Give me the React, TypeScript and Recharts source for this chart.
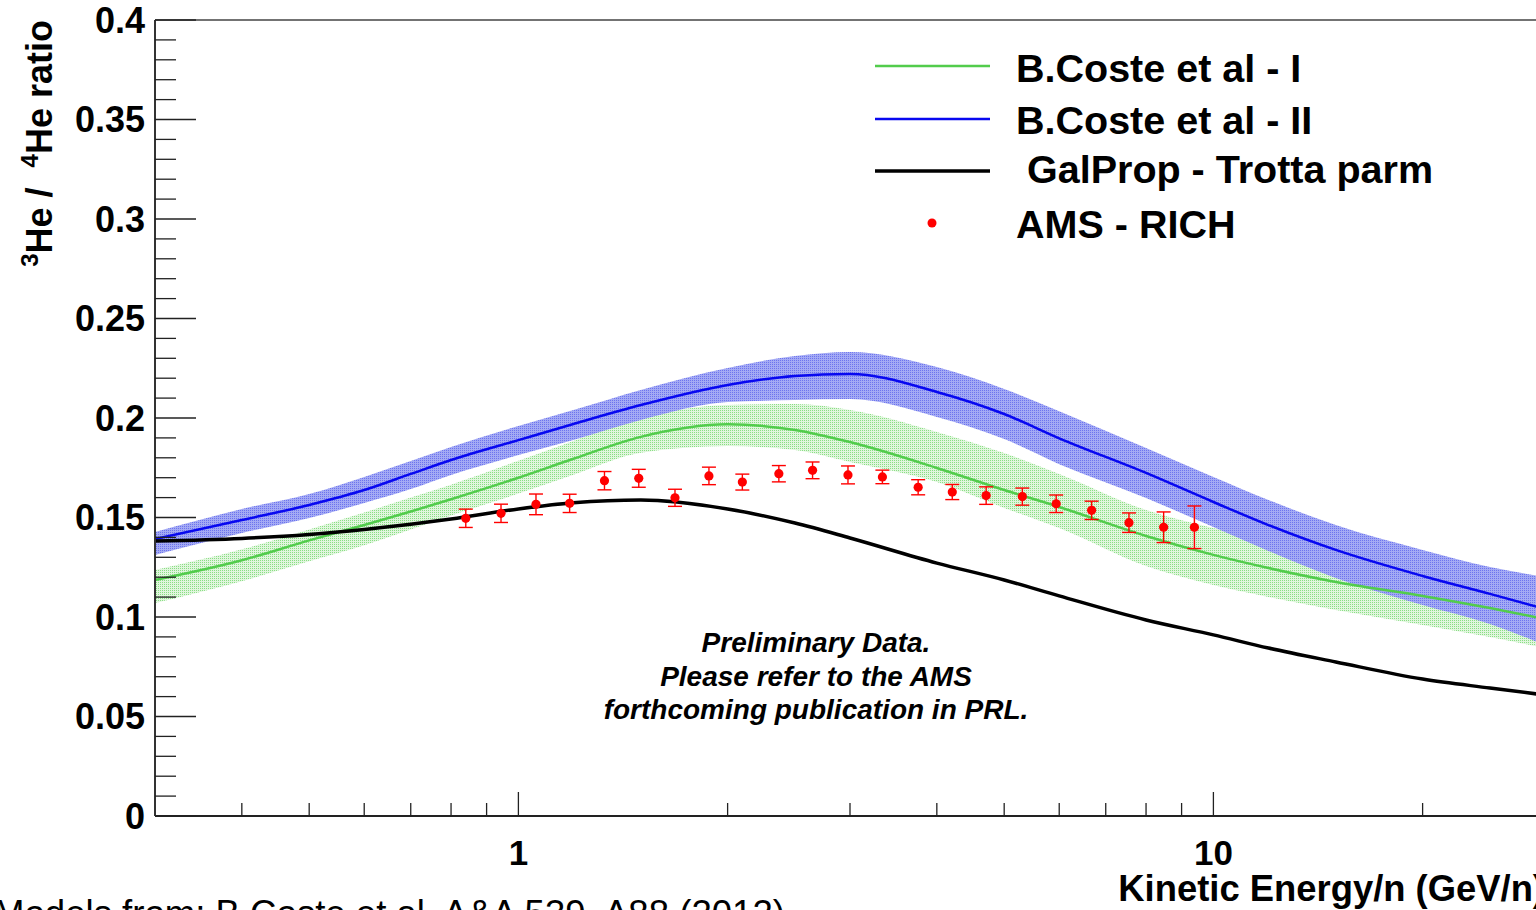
import React from 'react';
import { ComposedChart, Line, Area, Scatter, XAxis, YAxis, ErrorBar, ReferenceLine } from 'recharts';

// ---- data ----
const energyGrid = [0.3, 0.4, 0.5, 0.6, 0.7, 0.8, 1, 1.2, 1.5, 2, 2.5, 3, 4, 5, 6, 8, 10, 12, 15, 20, 25, 30];

const costeI = [0.1186, 0.1285, 0.1385, 0.1462, 0.153, 0.1592, 0.17, 0.1795, 0.1905, 0.1968, 0.194, 0.1879, 0.1749, 0.1638, 0.1553, 0.1407, 0.1312, 0.1246, 0.1176, 0.1106, 0.1045, 0.099];
const costeIHigh = [0.1236, 0.134, 0.144, 0.1525, 0.16, 0.1665, 0.1785, 0.1885, 0.2, 0.2065, 0.207, 0.204, 0.193, 0.1824, 0.1719, 0.1538, 0.1447, 0.1387, 0.1317, 0.1251, 0.1196, 0.1146];
const costeILow = [0.107, 0.118, 0.128, 0.136, 0.144, 0.151, 0.162, 0.1715, 0.1825, 0.1859, 0.1839, 0.1779, 0.1678, 0.1548, 0.1447, 0.1256, 0.1161, 0.1101, 0.1035, 0.096, 0.0899, 0.0844];

const costeII = [0.1392, 0.1487, 0.1563, 0.1638, 0.1719, 0.1789, 0.1889, 0.197, 0.2065, 0.2166, 0.2211, 0.2221, 0.2131, 0.202, 0.1898, 0.1724, 0.1578, 0.1462, 0.1337, 0.1206, 0.1116, 0.104];
const costeIIHigh = [0.1427, 0.1543, 0.1618, 0.1704, 0.1784, 0.1854, 0.196, 0.204, 0.2141, 0.2251, 0.2312, 0.2332, 0.2256, 0.2146, 0.2034, 0.1849, 0.1704, 0.1588, 0.1462, 0.1337, 0.1251, 0.1201];
const costeIILow = [0.1312, 0.1422, 0.1497, 0.1573, 0.1643, 0.1714, 0.1814, 0.1889, 0.199, 0.208, 0.209, 0.2095, 0.2005, 0.1894, 0.1768, 0.1598, 0.1452, 0.1332, 0.1196, 0.106, 0.0965, 0.0859];

const galprop = [0.1382, 0.1395, 0.1415, 0.144, 0.1466, 0.1492, 0.1543, 0.1574, 0.1588, 0.1543, 0.1472, 0.1397, 0.1271, 0.1186, 0.1106, 0.0985, 0.091, 0.0844, 0.0774, 0.0688, 0.0643, 0.0608];

const amsEnergy = [0.84, 0.944, 1.06, 1.185, 1.33, 1.49, 1.68, 1.88, 2.1, 2.37, 2.65, 2.98, 3.34, 3.76, 4.21, 4.71, 5.31, 5.94, 6.68, 7.56, 8.48, 9.39];
const amsRatio = [0.1496, 0.1521, 0.1566, 0.1571, 0.1685, 0.1697, 0.1599, 0.1709, 0.1678, 0.172, 0.1737, 0.1714, 0.1704, 0.1652, 0.1628, 0.161, 0.1605, 0.1569, 0.1536, 0.1474, 0.1451, 0.1451];
const amsError = [0.0046, 0.0046, 0.0052, 0.0046, 0.0046, 0.0045, 0.0043, 0.0044, 0.004, 0.0041, 0.0042, 0.0045, 0.0034, 0.0038, 0.0038, 0.0044, 0.0043, 0.0044, 0.0046, 0.0049, 0.0077, 0.0107];

const xTicks = [0.4, 0.5, 0.6, 0.7, 0.8, 0.9, 1, 2, 3, 4, 5, 6, 7, 8, 9, 10, 20];
const xMajorTicks = [1, 10];
const yMajorTicks = [0, 0.05, 0.1, 0.15, 0.2, 0.25, 0.3, 0.35, 0.4];
const yTicks: number[] = [];
for (let k = 0; k <= 40; k++) yTicks.push(k / 100);

const legendItems = ['B.Coste et al - I', 'B.Coste et al - II', 'GalProp - Trotta parm', 'AMS - RICH'];
const noteLines = ['Preliminary Data.', 'Please refer to the AMS', 'forthcoming publication in PRL.'];

// ---- built tables ----
const modelData = energyGrid.map((e, i) => ({
  e,
  c1: costeI[i],
  c1Band: [costeILow[i], costeIHigh[i]],
  c2: costeII[i],
  c2Band: [costeIILow[i], costeIIHigh[i]],
  gp: galprop[i],
}));
const amsData = amsEnergy.map((e, i) => ({ e, ratio: amsRatio[i], err: amsError[i] }));

const FONT = '"Liberation Sans", Arial, Helvetica, sans-serif';
const GREEN = '#52cc4c';
const BLUE = '#0808f0';

const XTick = (props: any) => {
  const { x, y, payload } = props;
  const v = payload.value;
  const major = xMajorTicks.includes(v);
  return (
    <g>
      <line x1={x} x2={x} y1={y} y2={y - (major ? 24 : 13)} stroke="#222" strokeWidth={1.3} />
      {major && (
        <text x={x} y={y + 49} textAnchor="middle" fontFamily={FONT} fontWeight="bold" fontSize={35} fill="#000">
          {v}
        </text>
      )}
    </g>
  );
};

const YTick = (props: any) => {
  const { x, y, payload } = props;
  const v = payload.value as number;
  const major = yMajorTicks.some((m) => Math.abs(m - v) < 1e-6);
  return (
    <g>
      <line x1={x} x2={x + (major ? 41 : 21)} y1={y} y2={y} stroke="#222" strokeWidth={1.3} />
      {major && (
        <text x={x - 10} y={y + 12.5} textAnchor="end" fontFamily={FONT} fontWeight="bold" fontSize={36} fill="#000">
          {String(Math.round(v * 100) / 100)}
        </text>
      )}
    </g>
  );
};

const Dot = (p: any) => <circle cx={p.cx} cy={p.cy} r={4.6} fill="#ff0000" />;

export default function App() {
  return (
    <div style={{ position: 'fixed', left: 0, top: 0, width: 1536, height: 910, overflow: 'hidden', background: '#fff' }}>
      <ComposedChart width={1560} height={910} margin={{ top: 20, right: 15, bottom: 0, left: 0 }}>
        <defs>
          <pattern id="bluePat" width={2} height={2} patternUnits="userSpaceOnUse">
            <rect x={0} y={0} width={2} height={2} fill="#a4aaf4" />
            <rect x={0} y={0} width={1} height={1} fill="#6c74ee" />
          </pattern>
          <pattern id="greenPat" width={2} height={2} patternUnits="userSpaceOnUse">
            <rect x={0} y={0} width={2} height={2} fill="#e0f6dd" />
            <rect x={0} y={0} width={1} height={1} fill="#8ade84" />
          </pattern>
        </defs>
        <XAxis
          dataKey="e"
          type="number"
          scale="log"
          domain={[0.3, 30]}
          allowDataOverflow
          ticks={xTicks}
          interval={0}
          tick={<XTick />}
          tickLine={false}
          tickSize={0}
          tickMargin={0}
          height={94}
          axisLine={{ stroke: '#222', strokeWidth: 2 }}
        />
        <YAxis
          type="number"
          domain={[0, 0.4]}
          allowDataOverflow
          ticks={yTicks}
          interval={0}
          tick={<YTick />}
          tickLine={false}
          tickSize={0}
          tickMargin={0}
          width={155}
          axisLine={{ stroke: '#333', strokeWidth: 2 }}
        />
        <ReferenceLine y={0.4} stroke="#444" strokeWidth={1.5} />
        <Area data={modelData} dataKey="c1Band" type="monotone" stroke="none" fill="url(#greenPat)" fillOpacity={1} isAnimationActive={false} />
        <Area data={modelData} dataKey="c2Band" type="monotone" stroke="none" fill="url(#bluePat)" fillOpacity={1} isAnimationActive={false} />
        <Line data={modelData} dataKey="c1" type="monotone" stroke={GREEN} strokeWidth={2.5} dot={false} isAnimationActive={false} />
        <Line data={modelData} dataKey="c2" type="monotone" stroke={BLUE} strokeWidth={2.5} dot={false} isAnimationActive={false} />
        <Line data={modelData} dataKey="gp" type="monotone" stroke="#000" strokeWidth={3.5} dot={false} isAnimationActive={false} />
        <Scatter data={amsData} dataKey="ratio" fill="#ff0000" shape={<Dot />} isAnimationActive={false}>
          <ErrorBar dataKey="err" direction="y" width={7} stroke="#ff0000" strokeWidth={1.4} />
        </Scatter>
      </ComposedChart>
      <svg width={1536} height={910} style={{ position: 'absolute', left: 0, top: 0, pointerEvents: 'none' }}>
        {/* y title */}
        <text
          transform="translate(52,20) rotate(-90)"
          textAnchor="end"
          fontFamily={FONT}
          fontWeight="bold"
          fontSize={36}
          fill="#000"
          style={{ whiteSpace: 'pre' }}
        >
          <tspan fontSize={24} dy={-14}>3</tspan>
          <tspan dy={14}>He /  </tspan>
          <tspan fontSize={24} dy={-14}>4</tspan>
          <tspan dy={14}>He ratio</tspan>
        </text>
        {/* x title */}
        <text x={1545} y={901} textAnchor="end" fontFamily={FONT} fontWeight="bold" fontSize={36.4} fill="#000">
          Kinetic Energy/n (GeV/n)
        </text>
        {/* source note */}
        <text x={-6} y={926} fontFamily={FONT} fontSize={36.6} fill="#000">
          Models from: B.Coste et al. A&amp;A 539, A88 (2012)
        </text>
        {/* preliminary note */}
        {noteLines.map((t, i) => (
          <text key={t} x={816} y={652 + i * 33.5} textAnchor="middle" fontFamily={FONT} fontWeight="bold" fontStyle="italic" fontSize={28} fill="#000">
            {t}
          </text>
        ))}
        {/* legend */}
        <line x1={875} x2={990} y1={66} y2={66} stroke={GREEN} strokeWidth={2.5} />
        <line x1={875} x2={990} y1={119} y2={119} stroke={BLUE} strokeWidth={2.5} />
        <line x1={875} x2={990} y1={171} y2={171} stroke="#000" strokeWidth={3.5} />
        <circle cx={932} cy={223} r={4.5} fill="#ff0000" />
        {legendItems.map((t, i) => (
          <text key={t} x={i === 2 ? 1027 : 1016} y={[82, 134, 183, 238][i]} fontFamily={FONT} fontWeight="bold" fontSize={39.5} fill="#000">
            {t}
          </text>
        ))}
      </svg>
    </div>
  );
}
